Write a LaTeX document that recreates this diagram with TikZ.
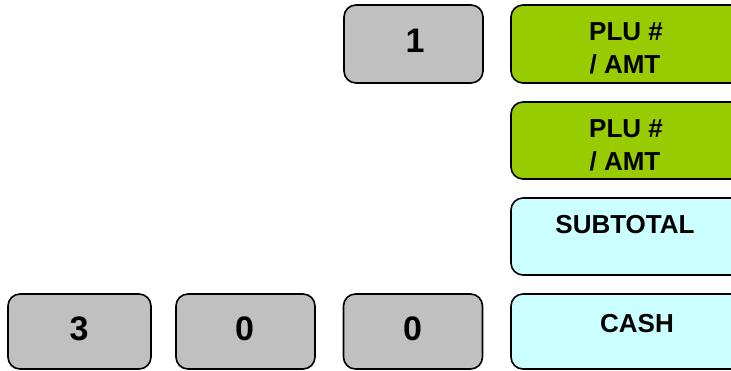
\documentclass[tikz,border=0pt]{standalone}
\usepackage{fontspec}
\setmainfont{Liberation Sans}
\begin{document}
\begin{tikzpicture}[x=1pt,y=-1pt,
  keybox/.style={draw=black, line width=1.6pt, rounded corners=12pt, inner sep=0pt, minimum width=#1},
  graykey/.style={keybox=139pt, fill=keygray},
  greenkey/.style={keybox=234pt, fill=keygreen},
  cyankey/.style={keybox=234pt, fill=keycyan},
  digit/.style={anchor=base, inner sep=0pt, font=\fontsize{34}{40}\selectfont\bfseries},
  keytxt/.style={anchor=base, inner sep=0pt, font=\fontsize{26}{33}\selectfont\bfseries}]
\definecolor{keygray}{HTML}{C0C0C0}
\definecolor{keygreen}{HTML}{99CC00}
\definecolor{keycyan}{HTML}{CCFFFF}
\useasboundingbox (0,0) rectangle (731,370);
\clip (0,0) rectangle (731,370);
% top row
\node[graykey, minimum height=78pt] (k1) at (413.5,44) {};
\node[digit] (t1) at (415,52) {1};
\node[greenkey, minimum height=78pt] (p1) at (628,44) {};
\node[keytxt] (p1a) at (626,40) {PLU \#};
\node[keytxt] (p1b) at (625,73) {/ AMT};
% second row
\node[greenkey, minimum height=77pt] (p2) at (628,140.5) {};
\node[keytxt] (p2a) at (626,137) {PLU \#};
\node[keytxt] (p2b) at (625,170) {/ AMT};
% third row
\node[cyankey, minimum height=77pt] (st) at (628,236.5) {};
\node[keytxt] (stt) at (625,233) {SUBTOTAL};
% bottom row
\node[graykey, minimum width=143pt, minimum height=75pt] (k3) at (79.5,331.5) {};
\node[digit] (t3) at (79,340) {3};
\node[graykey, minimum height=75pt] (k0a) at (245.5,331.5) {};
\node[digit] (t0a) at (244.5,340) {0};
\node[graykey, minimum height=75pt] (k0b) at (413,331.5) {};
\node[digit] (t0b) at (412.5,340) {0};
\node[cyankey, minimum height=75pt] (ca) at (628,331.5) {};
\node[keytxt] (cat) at (637,332) {CASH};
\end{tikzpicture}
\end{document}
